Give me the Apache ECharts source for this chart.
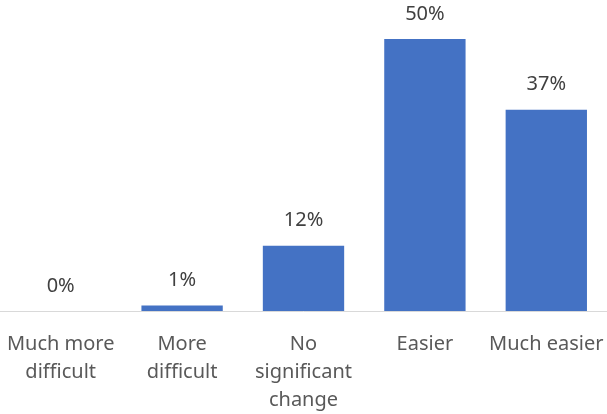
<!DOCTYPE html>
<html>
<head>
<meta charset="utf-8">
<script src="https://cdn.jsdelivr.net/npm/echarts@6/dist/echarts.min.js"></script>
<style>
  html, body { margin: 0; padding: 0; background: #ffffff; }
  #chart { width: 607px; height: 414px; }
</style>
</head>
<body>
<div id="chart"></div>
<script>
// Perceived change in difficulty, share of respondents (%)
const categories = [
  'Much more\ndifficult',
  'More\ndifficult',
  'No\nsignificant\nchange',
  'Easier',
  'Much easier'
];
const shares = [0, 1, 12, 50, 37];

const FONT = '"Noto Sans", sans-serif';

const chart = echarts.init(document.getElementById('chart'), null, { renderer: 'canvas' });
chart.setOption({
  animation: false,
  backgroundColor: '#ffffff',
  grid: { left: 0, right: 0, top: 39, bottom: 103, containLabel: false },
  xAxis: {
    type: 'category',
    data: categories,
    axisLine: { show: true, lineStyle: { color: '#d9d9d9', width: 1 } },
    axisTick: { show: false },
    axisLabel: {
      interval: 0,
      margin: 19,
      color: '#595959',
      fontFamily: FONT,
      fontSize: 20,
      lineHeight: 28
    }
  },
  yAxis: {
    type: 'value',
    min: 0,
    max: 50,
    show: false,
    splitLine: { show: false }
  },
  series: [{
    type: 'bar',
    data: shares,
    barCategoryGap: '33%',
    itemStyle: { color: '#4472c4' },
    label: {
      show: true,
      position: 'top',
      distance: 13,
      formatter: '{c}%',
      color: '#404040',
      fontFamily: FONT,
      fontSize: 20,
      lineHeight: 24
    }
  }]
});
</script>
</body>
</html>
